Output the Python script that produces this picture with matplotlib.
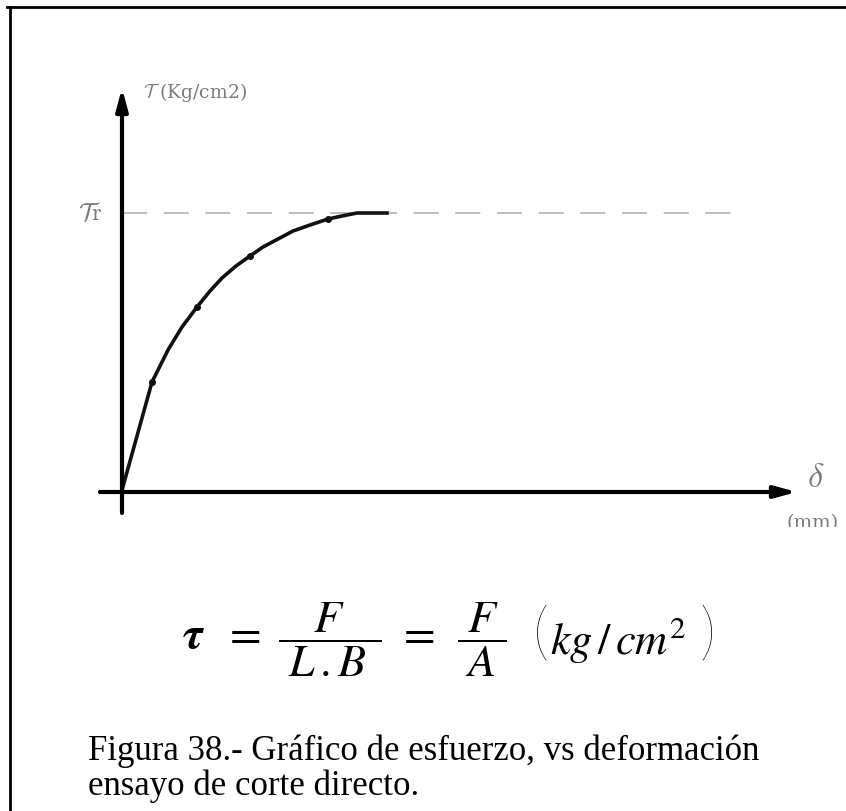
import matplotlib.pyplot as plt
from matplotlib.lines import Line2D

# curva esfuerzo - deformación (unidades relativas al origen de los ejes)
delta = [0, 30, 38, 46, 60, 75, 88, 100, 114, 128, 141, 156, 171, 188, 206,
         220, 235, 265]
tau = [2, 110, 126, 142, 165, 185, 201, 214, 226, 236, 245, 253, 261, 267, 273,
       276, 279, 279]
puntos_delta = [30, 75, 128, 206]
puntos_tau = [110, 185, 236, 273]
tau_r = 279

W, H = 846, 811
fig = plt.figure(figsize=(W / 100, H / 100), dpi=100)
plt.rcParams['mathtext.fontset'] = 'cm'

# ejes en coordenadas de dibujo: el gráfico queda cortado en y=527 px
y_corte = 527
ax = fig.add_axes([0, 1 - y_corte / H, 1, y_corte / H])
ax.set_xlim(-122, W - 122)
ax.set_ylim(-(y_corte - 492), 492)
ax.axis('off')

gris = '#7a7a7a'

# ejes con flecha
ax.annotate('', xy=(0, 404), xytext=(0, -21),
            arrowprops=dict(arrowstyle='-|>,head_length=1.3,head_width=0.35',
                            lw=3, color='black', shrinkA=0, shrinkB=0))
ax.annotate('', xy=(675, 0), xytext=(-22, 0),
            arrowprops=dict(arrowstyle='-|>,head_length=1.3,head_width=0.35',
                            lw=3, color='black', shrinkA=0, shrinkB=0))

# línea de esfuerzo residual
ax.plot([0, 613], [tau_r, tau_r], color='#b0b0b0', lw=1.2, dashes=(15, 10))

# curva
ax.plot(delta, tau, color='#111111', lw=2.6, solid_joinstyle='round')
ax.plot(puntos_delta, puntos_tau, 'o', color='#111111', ms=4)

# rótulos de los ejes
ax.text(21, 399, r'$\mathcal{T}$ (Kg/cm2)', color=gris, fontsize=13.5,
        family='DejaVu Serif', va='center', ha='left')
ax.text(-44, 279, r'$\mathcal{T}\mathrm{r}$', color=gris, fontsize=18,
        va='center', ha='left')
ax.text(685, 15, r'$\delta$', color=gris, fontsize=25, va='center', ha='left')
ax.text(665, -22, '(mm)', color=gris, fontsize=14, family='DejaVu Serif',
        va='top', ha='left', clip_on=True)

# fórmula
fig.text(182 / W, 1 - 640 / H,
         r'$\mathbfit{\tau}\ \ =\ \dfrac{\;F\;\,}{\;L\,.B\;\,}\ =\ \,\dfrac{\;F\;}{\;A\;}$',
         fontsize=33, ha='left', va='center', math_fontfamily='stix')
fig.text(533 / W, 1 - 636 / H, '(', fontsize=46, family='Lato',
         fontweight='light', ha='left', va='center')
fig.text(550 / W, 1 - 654 / H, r'$kg\,/\,cm^2$', fontsize=32,
         ha='left', va='baseline', math_fontfamily='stix')
fig.text(699 / W, 1 - 636 / H, ')', fontsize=46, family='Lato',
         fontweight='light', ha='left', va='center')

# pie de figura
fig.text(88 / W, 1 - 760 / H, 'Figura 38.- Gráfico de esfuerzo, vs deformación',
         fontsize=25, family='Liberation Serif', ha='left', va='baseline')
fig.text(88 / W, 1 - 795 / H, 'ensayo de corte directo.',
         fontsize=25, family='Liberation Serif', ha='left', va='baseline')

# marco
fig.add_artist(Line2D([7 / W, 1], [1 - 7 / H, 1 - 7 / H], color='black', lw=2))
fig.add_artist(Line2D([10 / W, 10 / W], [0, 1 - 7 / H], color='black', lw=2))

fig.savefig('out.png', dpi=100, facecolor='white')
